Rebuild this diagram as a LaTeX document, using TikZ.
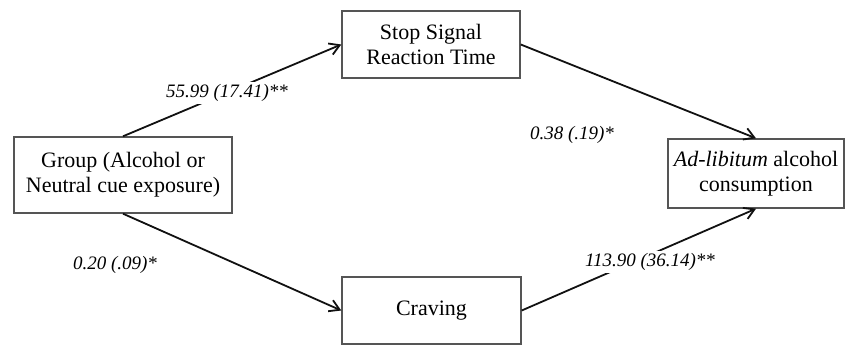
\documentclass[tikz,border=0pt]{standalone}
\usepackage{fontspec}
\setmainfont{Liberation Serif}
\usetikzlibrary{arrows.meta,positioning}
\definecolor{boxGray}{HTML}{555555}
\definecolor{ink}{HTML}{111111}

\begin{document}
\begin{tikzpicture}[x=0.5pt,y=-0.5pt,>={Straight Barb[length=5pt,width=6pt]},
  box/.style={draw=boxGray,line width=0.7pt,align=center,inner sep=2pt,font=\fontsize{11}{12.5}\selectfont},
  lbl/.style={fill=white,inner sep=1pt,font=\fontsize{9.5}{11}\selectfont\itshape},
  path/.style={->,ink,line width=0.9pt}]
\useasboundingbox (0,0) rectangle (846,347);
\node[box,minimum width=109pt,minimum height=38pt] (grp) at (123,175) {Group (Alcohol or\\Neutral cue exposure)};
\node[box,minimum width=89pt,minimum height=33.5pt] (ssrt) at (431,44.5) {Stop Signal\\Reaction Time};
\node[box,minimum width=89.5pt,minimum height=33.5pt] (crav) at (431.5,310.5) {Craving};
\node[box,minimum width=88pt,minimum height=34.5pt] (adlib) at (756,173.5) {\textit{Ad-libitum} alcohol\\consumption};
\draw[path] (grp.north) -- (ssrt.west);
\draw[path] (ssrt.east) -- (adlib.north);
\draw[path] (grp.south) -- (crav.west);
\draw[path] (crav.east) -- (adlib.south);
\node[lbl] (a1) at (227,93) {55.99 (17.41)**};
\node[lbl] (b1) at (572,135) {0.38 (.19)*};
\node[lbl] (a2) at (115,265) {0.20 (.09)*};
\node[lbl] (b2) at (650,262) {113.90 (36.14)**};
\end{tikzpicture}
\end{document}
